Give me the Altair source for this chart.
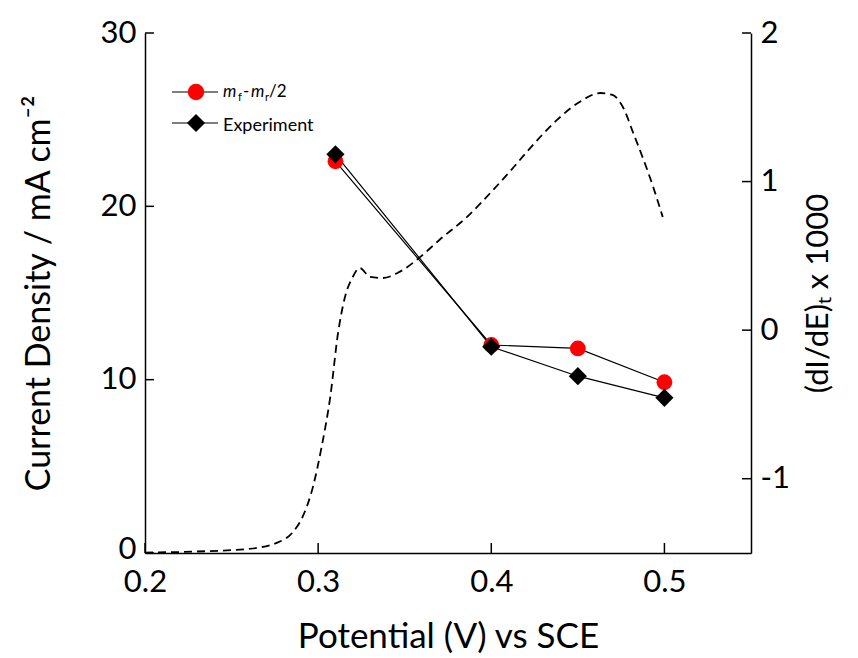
import altair as alt
import pandas as pd

# ---- data ----
potential = [0.31, 0.40, 0.45, 0.50]
model_j = [22.6, 12.0, 11.8, 9.85]      # m_f - m_r/2
exp_j = [23.0, 11.9, 10.2, 8.95]        # Experiment

deriv_potential = [0.200, 0.230, 0.260, 0.276, 0.285, 0.291, 0.297, 0.302, 0.307,
                   0.3115, 0.3155, 0.320, 0.324, 0.330, 0.3375, 0.347, 0.359, 0.370,
                   0.386, 0.401, 0.413, 0.424, 0.438, 0.451, 0.463, 0.470, 0.476,
                   0.482, 0.488, 0.4935, 0.499]
deriv_vals = [-1.497, -1.49, -1.472, -1.432, -1.365, -1.257, -1.055, -0.786, -0.449,
              -0.019, 0.223, 0.358, 0.419, 0.358, 0.351, 0.392, 0.493, 0.607,
              0.762, 0.943, 1.098, 1.246, 1.415, 1.536, 1.596, 1.583, 1.502,
              1.327, 1.145, 0.964, 0.762]

x_ticks = [0.2, 0.3, 0.4, 0.5]
left_ticks = [0, 10, 20, 30]
right_ticks = [-1, 0, 1, 2]

W, H = 606, 520
FONT = "Lato"

df_model = pd.DataFrame({"E": potential, "J": model_j})
df_exp = pd.DataFrame({"E": potential, "J": exp_j})
df_deriv = pd.DataFrame({"E": deriv_potential, "D": deriv_vals})
df_xt = pd.DataFrame({"E": x_ticks})
df_lt = pd.DataFrame({"J": left_ticks})
df_rt = pd.DataFrame({"D": right_ticks})
one = pd.DataFrame({"k": [0]})

x_enc = alt.X(
    "E:Q",
    scale=alt.Scale(domain=[0.2, 0.55], nice=False, zero=False),
    axis=alt.Axis(values=x_ticks, format=".1f", title="Potential (V) vs SCE",
                  grid=False, ticks=False, tickSize=0, labelPadding=14,
                  labelFontSize=31, titleFontSize=35, titlePadding=22,
                  labelFlush=False, labelOverlap=False),
)
y_left = alt.Y("J:Q", scale=alt.Scale(domain=[0, 30], nice=False, zero=False),
               axis=alt.Axis(values=left_ticks, title="Current Density / mA cm⁻²",
                             grid=False, ticks=False, tickSize=0, labelPadding=9,
                             labelOffset={"condition": {"test": "datum.value == 0", "value": -4},
                                          "value": 0},
                             labelFontSize=31, titleFontSize=34, titlePadding=44,
                             labelFlush=False, labelOverlap=False))

y_right = alt.Y("D:Q", scale=alt.Scale(domain=[-1.5, 2], nice=False, zero=False),
                axis=alt.Axis(orient="right", values=right_ticks, title="(dI/dE)ₜ x 1000",
                              labelExpr="replace(datum.label, '\u2212', '-')",
                              grid=False, ticks=False, tickSize=0, labelPadding=9,
                              labelFontSize=31, titleFontSize=31, titlePadding=14,
                              titleAngle=270, titleBaseline="top",
                              labelFlush=False, labelOverlap=False))

model_line = alt.Chart(df_model).mark_line(color="black", strokeWidth=1.2).encode(x=x_enc, y=y_left)
exp_line = alt.Chart(df_exp).mark_line(color="black", strokeWidth=1.2).encode(x=x_enc, y=y_left)
model_pts = alt.Chart(df_model).mark_point(shape="circle", filled=True, color="#ff0000",
                                           opacity=1, size=250).encode(x=x_enc, y=y_left)
exp_pts = alt.Chart(df_exp).mark_point(shape="diamond", filled=True, color="black",
                                       opacity=1, size=330).encode(x=x_enc, y=y_left)

left_tick_marks = alt.Chart(df_lt).mark_rule(color="black", strokeWidth=1.5).encode(
    y=y_left, x=alt.value(0), x2=alt.value(9))
bottom_tick_marks = alt.Chart(df_xt).mark_rule(color="black", strokeWidth=1.5).encode(
    x=x_enc, y=alt.value(H), y2=alt.value(H - 10))

# legend (manual, to allow sub-scripts)
leg_rows = []
leg_rows.append(alt.Chart(one).mark_rule(color="black", strokeWidth=1.2).encode(
    x=alt.value(27), x2=alt.value(73), y=alt.value(59)))
leg_rows.append(alt.Chart(one).mark_rule(color="black", strokeWidth=1.2).encode(
    x=alt.value(27), x2=alt.value(73), y=alt.value(90)))
leg_rows.append(alt.Chart(one).mark_point(shape="circle", filled=True, color="#ff0000",
                                          opacity=1, size=270).encode(
    x=alt.value(51), y=alt.value(59)))
leg_rows.append(alt.Chart(one).mark_point(shape="diamond", filled=True, color="black",
                                          opacity=1, size=330).encode(
    x=alt.value(51), y=alt.value(90)))

def txt(s, x, y, size=17, style="normal"):
    return alt.Chart(one).mark_text(align="left", baseline="alphabetic", fontSize=size,
                                    fontStyle=style, font=FONT, color="black").encode(
        x=alt.value(x), y=alt.value(y), text=alt.value(s))

leg_rows += [
    txt("m", 78, 64, 17, "italic"),
    txt("f", 93, 68, 11),
    txt("-", 98, 64, 17),
    txt("m", 106, 64, 17, "italic"),
    txt("r", 120, 68, 11),
    txt("/2", 124, 64, 17),
    txt("Experiment", 78, 98, 18),
]

left = alt.layer(model_line, exp_line, model_pts, exp_pts, left_tick_marks,
                 bottom_tick_marks, *leg_rows)

deriv = alt.Chart(df_deriv).mark_line(color="black", strokeWidth=1.8, strokeDash=[8, 5],
                                      interpolate="monotone").encode(x=x_enc, y=y_right)
right_tick_marks = alt.Chart(df_rt).mark_rule(color="black", strokeWidth=1.5).encode(
    y=y_right, x=alt.value(W), x2=alt.value(W - 9))

right = alt.layer(deriv, right_tick_marks)

chart = alt.layer(left, right).resolve_scale(y="independent").properties(
    width=W, height=H,
    padding={"left": 145, "top": 33, "right": 858 - 145 - W, "bottom": 658 - 33 - H},
    autosize=alt.AutoSizeParams(type="none"),
    background="white",
).configure_view(stroke=None).configure_axis(
    domainColor="black", domainWidth=1.5, labelColor="black", titleColor="black",
    labelFont=FONT, titleFont=FONT, titleFontWeight="normal",
)

chart.save("out.html", embed_options={"renderer": "svg", "actions": False})
